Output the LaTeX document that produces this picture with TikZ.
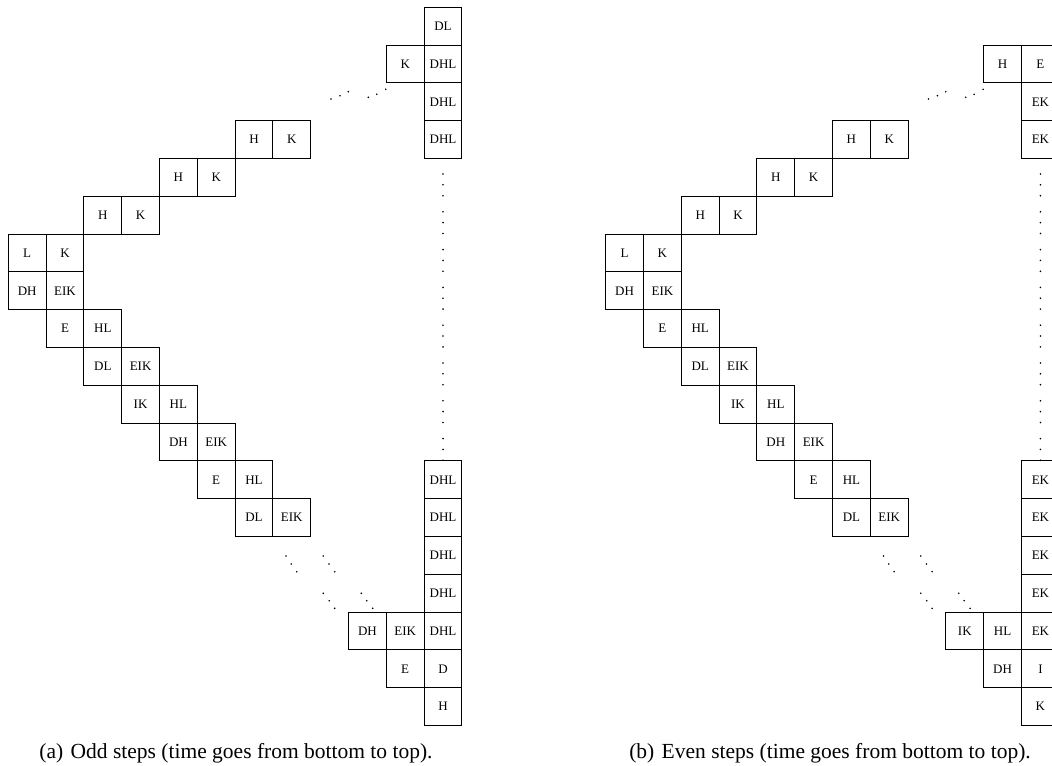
\documentclass[tikz,border=0pt]{standalone}
\usepackage{fontspec}
\setmainfont{Liberation Serif}
\begin{document}
\begin{tikzpicture}[x=0.5pt,y=-0.5pt,
  cellbox/.style={draw=black,line width=0.5pt,minimum width=18.9pt,minimum height=18.9pt,inner sep=0pt,font=\fontsize{6.5}{7}\selectfont},
  capt/.style={anchor=base,inner sep=0pt,font=\fontsize{10.75}{12}\selectfont},
  dotmark/.style={fill=black}]
\clip (0,0) rectangle (1052,765);
% left panel (a)
\foreach \c/\r/\t in {11/0/DL,10/1/K,11/1/DHL,11/2/DHL,11/3/DHL,
  6/3/H,7/3/K,4/4/H,5/4/K,2/5/H,3/5/K,0/6/L,1/6/K,0/7/DH,1/7/EIK,
  1/8/E,2/8/HL,2/9/DL,3/9/EIK,3/10/IK,4/10/HL,4/11/DH,5/11/EIK,
  5/12/E,6/12/HL,6/13/DL,7/13/EIK,
  11/12/DHL,11/13/DHL,11/14/DHL,11/15/DHL,11/16/DHL,
  9/16/DH,10/16/EIK,10/17/E,11/17/D,11/18/H}
  {\node[cellbox] (a-\c-\r) at ({27.2+37.8*\c},{26.2+37.8*\r}) {\t};}
% right panel (b)
\foreach \c/\r/\t in {10/1/H,11/1/E,11/2/EK,11/3/EK,
  6/3/H,7/3/K,4/4/H,5/4/K,2/5/H,3/5/K,0/6/L,1/6/K,0/7/DH,1/7/EIK,
  1/8/E,2/8/HL,2/9/DL,3/9/EIK,3/10/IK,4/10/HL,4/11/DH,5/11/EIK,
  5/12/E,6/12/HL,6/13/DL,7/13/EIK,
  11/12/EK,11/13/EK,11/14/EK,11/15/EK,11/16/EK,
  9/16/IK,10/16/HL,10/17/DH,11/17/I,11/18/K}
  {\node[cellbox] (b-\c-\r) at ({624.6+37.8*\c},{26.2+37.8*\r}) {\t};}
% dots
\foreach \ox in {0,597.4}{
  \begin{scope}[shift={(\ox,0)}]
  \foreach \r in {4,...,11}
    \foreach \dy in {15.5,26.3,37.2}
      \fill[dotmark] (443,{7.3+37.8*\r+\dy}) circle[radius=0.45pt];
  \foreach \p in {(331,99),(340,95.7),(348.3,91.7),(368.3,97.3),(376.7,94.3),(385.7,89.3),
    (286,556),(291.3,564),(296.7,571.7),(323.3,556),(329,564),(334.7,571.7),
    (323.3,593.3),(329.3,600.7),(334.7,608.3),(361.3,593.3),(366.7,600.7),(372.7,608.3)}
    \fill[dotmark] \p circle[radius=0.45pt];
  \end{scope}
}
% captions
\node[capt] (capa) at (236,758) {(a)\hspace{3.7pt}Odd steps (time goes from bottom to top).};
\node[capt] (capb) at (830,758) {(b)\hspace{3.7pt}Even steps (time goes from bottom to top).};
\end{tikzpicture}
\end{document}
